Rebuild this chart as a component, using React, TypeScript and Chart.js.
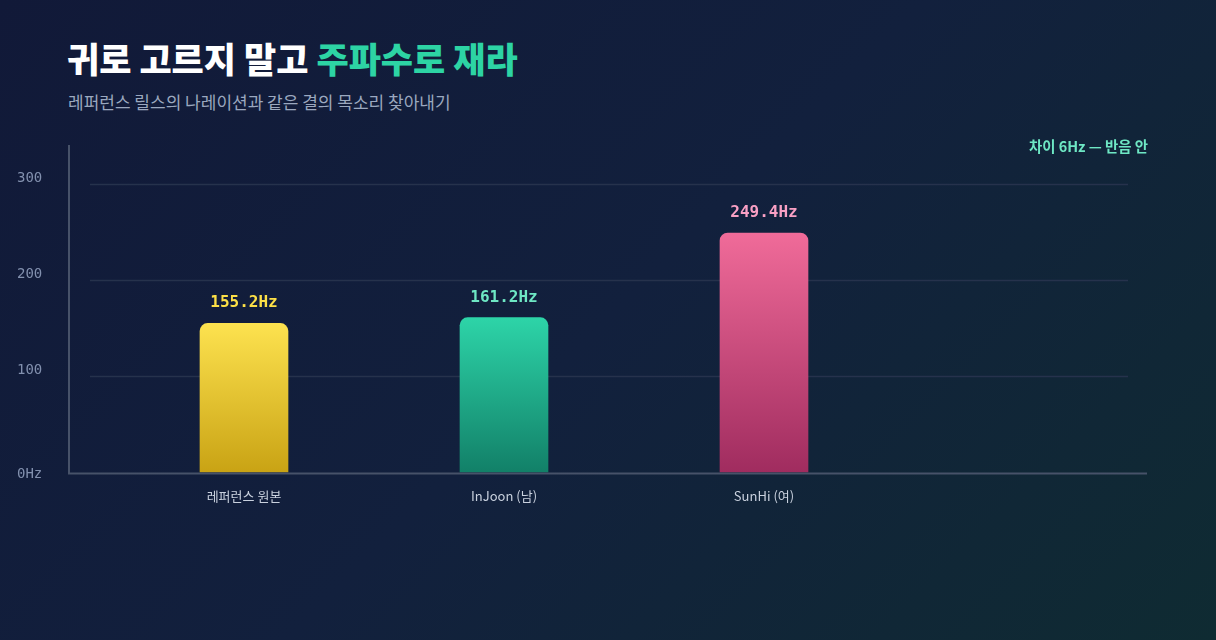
import React, { useEffect, useRef } from 'react';
import { Chart, registerables, Plugin } from 'chart.js';

Chart.register(...registerables);

// data
const categories = ['레퍼런스 원본', 'InJoon (남)', 'SunHi (여)', ''];
const pitchHz: (number | null)[] = [155.2, 161.2, 249.4, null];
const yTickValues = [0, 100, 200, 300];
const yTickLabels = ['0Hz', '100', '200', '300'];
const gridValues = [100, 200, 300];
const yMax = 340;

const barTopColors = ['#fde24f', '#2dd4a8', '#f06b99'];
const barBottomColors = ['#c9a314', '#128068', '#a02c5f'];
const valueLabelColors = ['#fde047', '#6ee7c4', '#f9a0c4'];

const SANS = '"Noto Sans CJK KR", "Noto Sans", sans-serif';
const MONO = '"DejaVu Sans Mono", monospace';

const axesPlugin: Plugin<'bar'> = {
  id: 'pitchAxes',
  beforeDatasetsDraw(chart) {
    const { ctx, chartArea, scales } = chart;
    const y = scales.y;
    ctx.save();
    // grid lines
    ctx.strokeStyle = '#26324c';
    ctx.lineWidth = 1.5;
    gridValues.forEach((v) => {
      const py = Math.round(y.getPixelForValue(v)) + 0.5;
      ctx.beginPath();
      ctx.moveTo(chartArea.left - 24, py);
      ctx.lineTo(chartArea.right - 26, py);
      ctx.stroke();
    });
    // tick labels
    ctx.fillStyle = '#8290ae';
    ctx.font = `14px ${MONO}`;
    ctx.textAlign = 'left';
    ctx.textBaseline = 'alphabetic';
    yTickValues.forEach((v, i) => {
      const py = y.getPixelForValue(v);
      ctx.fillText(yTickLabels[i], 17, v === 0 ? py + 6 : py - 2);
    });
    ctx.restore();
  },
  afterDatasetsDraw(chart) {
    const { ctx, chartArea, scales } = chart;
    const y0 = scales.y.getPixelForValue(0);
    ctx.save();
    // axis lines
    ctx.strokeStyle = '#475269';
    ctx.lineWidth = 2;
    ctx.beginPath();
    ctx.moveTo(69, chartArea.top - 1);
    ctx.lineTo(69, y0 + 1);
    ctx.lineTo(chartArea.right - 7, y0 + 1);
    ctx.stroke();
    // value labels
    const meta = chart.getDatasetMeta(0);
    ctx.font = `bold 16px ${MONO}`;
    ctx.textAlign = 'center';
    ctx.textBaseline = 'alphabetic';
    meta.data.forEach((bar: any, i) => {
      const v = pitchHz[i];
      if (v == null) return;
      ctx.fillStyle = valueLabelColors[i];
      ctx.fillText(`${v.toFixed(1)}Hz`, bar.x, bar.y - 16);
    });
    ctx.restore();
  },
};

const PitchChart: React.FC = () => {
  const canvasRef = useRef<HTMLCanvasElement>(null);

  useEffect(() => {
    if (!canvasRef.current) return;
    const chart = new Chart(canvasRef.current, {
      type: 'bar',
      data: {
        labels: categories,
        datasets: [
          {
            label: '주파수',
            data: pitchHz,
            barThickness: 88,
            borderRadius: 8,
            borderSkipped: 'start',
            backgroundColor: (c: any) => {
              const i = c.dataIndex ?? 0;
              const { chartArea, scales } = c.chart;
              const v = pitchHz[i];
              if (!chartArea || v == null) return barTopColors[i] || '#000';
              const g = c.chart.ctx.createLinearGradient(
                0,
                scales.y.getPixelForValue(v),
                0,
                scales.y.getPixelForValue(0)
              );
              g.addColorStop(0, barTopColors[i]);
              g.addColorStop(1, barBottomColors[i]);
              return g;
            },
          },
        ],
      },
      options: {
        animation: false,
        responsive: true,
        maintainAspectRatio: false,
        events: [],
        layout: { padding: { left: 114, right: 62, top: 146, bottom: 120 } },
        plugins: {
          legend: { display: false },
          tooltip: { enabled: false },
        },
        scales: {
          x: {
            grid: { display: false, drawTicks: false, tickLength: 0 },
            border: { display: false },
            ticks: {
              color: '#c9d1de',
              padding: 16,
              font: { family: SANS, size: 13 },
            },
          },
          y: {
            display: false,
            min: 0,
            max: yMax,
          },
        },
      },
      plugins: [axesPlugin],
    });
    return () => chart.destroy();
  }, []);

  return <canvas ref={canvasRef}></canvas>;
};

export default function App() {
  return (
    <div
      style={{
        position: 'fixed',
        left: 0,
        top: 0,
        width: 1216,
        height: 640,
        overflow: 'hidden',
        background: 'linear-gradient(135deg, #111938 0%, #12203d 50%, #0f2b32 100%)',
        fontFamily: SANS,
      }}
    >
      <div
        style={{
          position: 'absolute',
          left: 67,
          top: 37,
          fontSize: 35,
          lineHeight: '42px',
          fontWeight: 800,
          color: '#ffffff',
          whiteSpace: 'nowrap',
        }}
      >
        귀로 고르지 말고 <span style={{ color: '#2dd4a4' }}>주파수로 재라</span>
      </div>
      <div
        style={{
          position: 'absolute',
          left: 68,
          top: 91,
          fontSize: 17,
          lineHeight: '22px',
          color: '#9ba8bf',
          whiteSpace: 'nowrap',
        }}
      >
        레퍼런스 릴스의 나레이션과 같은 결의 목소리 찾아내기
      </div>
      <div
        style={{
          position: 'absolute',
          right: 1216 - 1148,
          top: 137,
          fontSize: 14.4,
          lineHeight: '18px',
          fontWeight: 700,
          color: '#6ee7c4',
          whiteSpace: 'nowrap',
          zIndex: 2,
        }}
      >
        차이 6Hz — 반음 안
      </div>
      <div style={{ position: 'absolute', left: 0, top: 0, width: 1216, height: 640 }}>
        <PitchChart />
      </div>
    </div>
  );
}
